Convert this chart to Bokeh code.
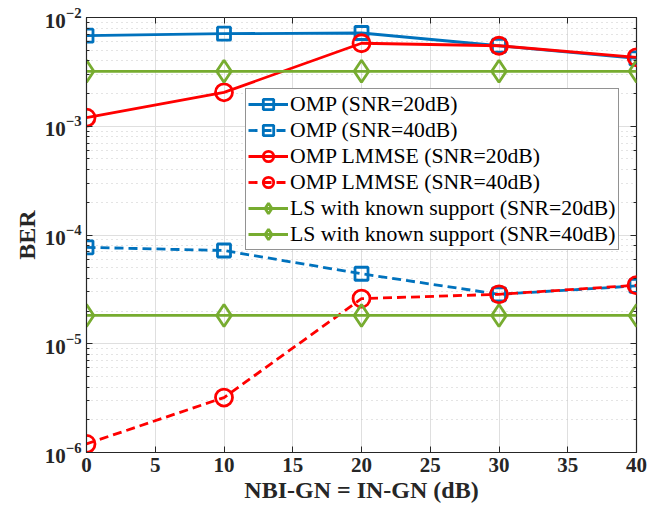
from bokeh.plotting import figure
from bokeh.models import (LogAxis, LinearAxis, Legend, LegendItem, FixedTicker, Range1d,
                          CustomJSTickFormatter)
from bokeh.embed import file_html
from bokeh.resources import INLINE

x = [0, 10, 20, 30, 40]
omp_20 = [6.8e-3, 7.1e-3, 7.2e-3, 5.5e-3, 4.2e-3]
omp_40 = [7.7e-5, 7.2e-5, 4.4e-5, 2.85e-5, 3.4e-5]
lmmse_20 = [1.2e-3, 2.05e-3, 5.8e-3, 5.5e-3, 4.3e-3]
lmmse_40 = [1.2e-6, 3.2e-6, 2.6e-5, 2.85e-5, 3.45e-5]
ls_20 = [3.2e-3] * 5
ls_40 = [1.82e-5] * 5
x_ticks = [0, 5, 10, 15, 20, 25, 30, 35, 40]

labels = ["OMP (SNR=20dB)", "OMP (SNR=40dB)", "OMP LMMSE (SNR=20dB)",
          "OMP LMMSE (SNR=40dB)", "LS with known support (SNR=20dB)",
          "LS with known support (SNR=40dB)"]

BLUE = "#0072BD"
RED = "#FF0000"
GREEN = "#77AC30"
FONT = "Liberation Serif"
DARK = "#262626"

p = figure(width=661, height=514, y_axis_type="log", output_backend="svg",
           toolbar_location=None, x_range=Range1d(0, 40), y_range=Range1d(1e-6, 1e-2),
           min_border_left=86, min_border_right=25, min_border_top=17, min_border_bottom=62)
p.outline_line_color = DARK
p.outline_line_width = 1.2

series = [
    (omp_20, BLUE, "solid", "square", 13),
    (omp_40, BLUE, "dashed", "square", 13),
    (lmmse_20, RED, "solid", "circle", 17),
    (lmmse_40, RED, "dashed", "circle", 17),
    (ls_20, GREEN, "solid", "diamond", 22),
    (ls_40, GREEN, "solid", "diamond", 22),
]
items = []
for (ys, col, dash, mk, sz), lab in zip(series, labels):
    dd = "9 5" if dash == "dashed" else "solid"
    l = p.line(x, ys, line_color=col, line_width=2.8, line_dash=dd)
    s = p.scatter(x, ys, marker=mk, size=sz, line_color=col, line_width=2.8, fill_color=None)
    items.append(LegendItem(label=lab, renderers=[l, s]))

leg = Legend(items=items, location=(159, 202))
leg.label_text_font = FONT
leg.label_text_font_size = "21.7px"
leg.label_text_color = "black"
leg.border_line_color = DARK
leg.border_line_width = 1
leg.background_fill_alpha = 1
leg.glyph_width = 40
leg.label_standoff = 2
leg.spacing = 0
leg.label_height = 26
leg.glyph_height = 26
leg.padding = 2
leg.margin = 0
p.add_layout(leg)

for ax in [p.xaxis[0], p.yaxis[0]]:
    ax.major_label_text_font = FONT
    ax.major_label_text_font_style = "bold"
    ax.major_label_text_font_size = "21px"
    ax.major_label_text_color = DARK
    ax.axis_label_text_font = FONT
    ax.axis_label_text_font_style = "bold"
    ax.axis_label_text_font_size = "24px"
    ax.axis_label_text_color = DARK
    ax.axis_line_color = DARK
    ax.major_tick_line_color = DARK
    ax.minor_tick_line_color = DARK
    ax.major_tick_in = 6
    ax.major_tick_out = 0
    ax.minor_tick_in = 3
    ax.minor_tick_out = 0

p.xaxis[0].ticker = FixedTicker(ticks=x_ticks)
p.xaxis[0].axis_label = "NBI-GN = IN-GN (dB)"
p.xaxis[0].minor_tick_line_color = None
p.xaxis[0].axis_label_standoff = 2
p.yaxis[0].axis_label = "BER"
p.yaxis[0].axis_label_standoff = 2

blank = CustomJSTickFormatter(code="return '';")
ra = LogAxis(formatter=blank, major_tick_in=6, major_tick_out=0,
             minor_tick_in=3, minor_tick_out=0, axis_line_color=None,
             major_tick_line_color=DARK, minor_tick_line_color=DARK,
             major_label_standoff=0)
p.add_layout(ra, "right")
ta = LinearAxis(ticker=FixedTicker(ticks=x_ticks), formatter=blank,
                major_tick_in=6, major_tick_out=0,
                minor_tick_line_color=None, axis_line_color=None,
                major_tick_line_color=DARK, major_label_standoff=0)
p.add_layout(ta, "above")

p.xgrid.grid_line_color = "#dfdfdf"
p.xgrid.grid_line_width = 1
p.ygrid.grid_line_color = "#dfdfdf"
p.ygrid.grid_line_width = 1
p.ygrid.minor_grid_line_color = "#c8c8c8"
p.ygrid.minor_grid_line_dash = "1 4"
p.ygrid.minor_grid_line_width = 1

open("out.html", "w").write(file_html(p, INLINE))
